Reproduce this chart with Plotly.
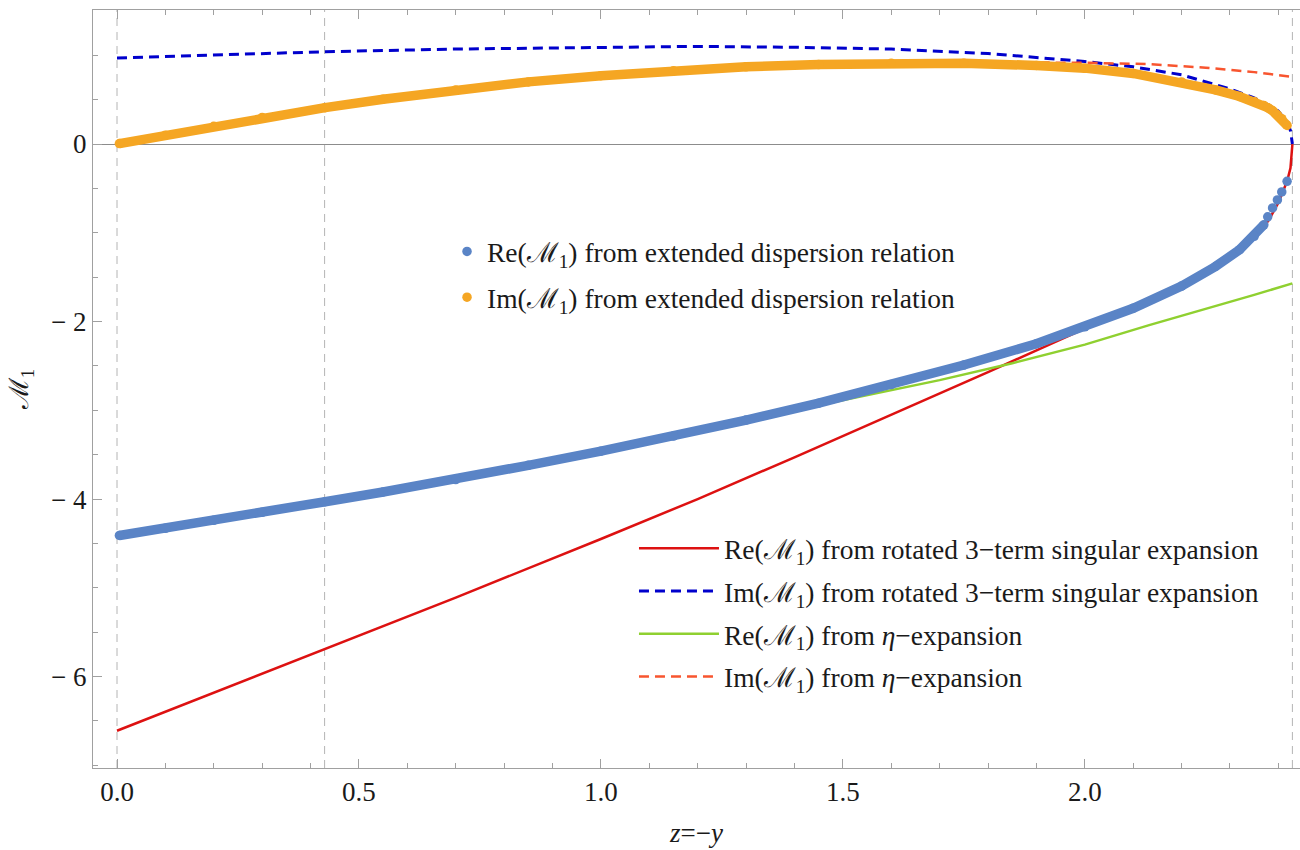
import plotly.graph_objects as go

# ---- data ----
# extended dispersion relation (dots), shared z samples
z_ext = [0.005, 0.1, 0.2, 0.3, 0.43, 0.55, 0.7, 0.85, 1.0, 1.15, 1.3, 1.45, 1.6,
         1.75, 1.9, 2.0, 2.1, 2.2, 2.27, 2.32, 2.35, 2.37, 2.378, 2.388, 2.398,
         2.407, 2.418]
re_ext = [-4.41, -4.33, -4.24, -4.15, -4.03, -3.92, -3.78, -3.62, -3.46, -3.29,
          -3.11, -2.92, -2.71, -2.49, -2.25, -2.06, -1.85, -1.60, -1.38, -1.19,
          -1.04, -0.91, -0.82, -0.72, -0.63, -0.54, -0.42]
im_ext = [0.005, 0.10, 0.20, 0.30, 0.41, 0.505, 0.61, 0.70, 0.77, 0.825, 0.87,
          0.895, 0.91, 0.91, 0.885, 0.855, 0.795, 0.70, 0.61, 0.535, 0.48, 0.435,
          0.41, 0.375, 0.33, 0.285, 0.21]
n_sparse_tail = 5  # last Re dots are visibly separated

# rotated 3-term singular expansion
z_rot = [0.0, 0.2, 0.43, 0.7, 1.0, 1.2, 1.4, 1.6, 1.8, 2.0, 2.1, 2.2, 2.3, 2.35,
         2.38, 2.4, 2.418, 2.425, 2.429]
re_rot = [-6.61, -6.18, -5.69, -5.11, -4.45, -4.0, -3.53, -3.05, -2.57, -2.08,
          -1.84, -1.60, -1.27, -1.06, -0.86, -0.66, -0.42, -0.27, 0.0]
im_rot = [0.97, 1.0, 1.04, 1.07, 1.09, 1.10, 1.09, 1.07, 1.02, 0.93, 0.87, 0.78,
          0.62, 0.52, 0.44, 0.37, 0.25, 0.15, 0.0]

# eta-expansion
z_eta = [0.0, 0.43, 0.7, 1.0, 1.2, 1.4, 1.55, 1.7, 1.85, 2.0, 2.133, 2.25, 2.35, 2.429]
re_eta = [-4.41, -4.03, -3.78, -3.46, -3.24, -3.0, -2.83, -2.66, -2.47, -2.26,
          -2.04, -1.86, -1.70, -1.57]
im_eta = [0.0, 0.41, 0.61, 0.77, 0.84, 0.885, 0.905, 0.915, 0.92, 0.915, 0.90,
          0.86, 0.81, 0.757]

gridline_z = [0.0, 0.429, 2.429]
x_ticks = [0.0, 0.5, 1.0, 1.5, 2.0]
x_tick_labels = ["0.0", "0.5", "1.0", "1.5", "2.0"]
y_ticks = [-6, -4, -2, 0]
y_tick_labels = ["\u2212 6", "\u2212 4", "\u2212 2", "0"]

M = "\u2133<sub>1</sub>"

C_BLUE_DOT = "#5a84c6"
C_ORANGE_DOT = "#f5a623"
C_RED = "#dd1111"
C_BLUE_DASH = "#0000cc"
C_GREEN = "#8fd030"
C_ORANGE_DASH = "#f8552f"
FRAME = "#a0a0a0"
DOT = 9.5

fig = go.Figure()

# lines (drawn first, under the dots)
fig.add_trace(go.Scatter(x=z_rot, y=re_rot, mode="lines", legend="legend2",
                         legendgroup="a", line=dict(color=C_RED, width=2.5),
                         name=f"Re({M}) from rotated 3\u2212term singular expansion"))
fig.add_trace(go.Scatter(x=z_rot, y=im_rot, mode="lines", legend="legend2",
                         legendgroup="b", line=dict(color=C_BLUE_DASH, width=3, dash="10px,6px"),
                         name=f"Im({M}) from rotated 3\u2212term singular expansion"))
fig.add_trace(go.Scatter(x=z_eta, y=re_eta, mode="lines", legend="legend2",
                         legendgroup="c", line=dict(color=C_GREEN, width=2.5),
                         name=f"Re({M}) from <i>\u03b7</i>\u2212expansion"))
fig.add_trace(go.Scatter(x=z_eta, y=im_eta, mode="lines", legend="legend2",
                         legendgroup="d", line=dict(color=C_ORANGE_DASH, width=2.5, dash="10px,6px"),
                         name=f"Im({M}) from <i>\u03b7</i>\u2212expansion"))

# dense dots rendered as a thick band plus markers
fig.add_trace(go.Scatter(x=z_ext[:-n_sparse_tail], y=re_ext[:-n_sparse_tail], mode="lines",
                         line=dict(color=C_BLUE_DOT, width=DOT), showlegend=False,
                         legend="legend", hoverinfo="skip"))
fig.add_trace(go.Scatter(x=z_ext, y=re_ext, mode="markers", legend="legend", legendgroup="e",
                         marker=dict(color=C_BLUE_DOT, size=DOT),
                         name=f"Re({M}) from extended dispersion relation"))
fig.add_trace(go.Scatter(x=z_ext, y=im_ext, mode="lines",
                         line=dict(color=C_ORANGE_DOT, width=DOT), showlegend=False,
                         legend="legend", hoverinfo="skip"))
fig.add_trace(go.Scatter(x=z_ext, y=im_ext, mode="markers", legend="legend", legendgroup="f",
                         marker=dict(color=C_ORANGE_DOT, size=DOT),
                         name=f"Im({M}) from extended dispersion relation"))

for gz in gridline_z:
    fig.add_shape(type="line", xref="x", yref="paper", x0=gz, x1=gz, y0=0, y1=1,
                  line=dict(color="#b4b4b4", width=1, dash="8px,6px"), layer="below")

fig.update_layout(
    width=1300, height=850,
    margin=dict(l=93, r=0, t=10, b=82),
    plot_bgcolor="white", paper_bgcolor="white",
    font=dict(family="Liberation Serif, Times New Roman, serif", size=27, color="#1a1a1a"),
    showlegend=True,
    legend=dict(x=0.2933, y=0.7137, xanchor="left", yanchor="top",
                bgcolor="rgba(0,0,0,0)", itemwidth=30, tracegroupgap=7,
                traceorder="grouped", font=dict(size=27.5)),
    legend2=dict(x=0.4482, y=0.3219, xanchor="left", yanchor="top",
                 bgcolor="rgba(0,0,0,0)", itemwidth=80, tracegroupgap=4,
                 traceorder="grouped", font=dict(size=27.5)),
)

fig.update_xaxes(
    range=[-0.0496, 2.4447], showline=True, linecolor=FRAME, linewidth=1, mirror="ticks",
    ticks="inside", ticklen=9, tickcolor=FRAME, tickvals=x_ticks, ticktext=x_tick_labels,
    minor=dict(dtick=0.1, tick0=0, ticks="inside", ticklen=5, tickcolor=FRAME, showgrid=False),
    showgrid=False, zeroline=False,
    title=dict(text="<i>z</i>=\u2212<i>y</i>", standoff=16, font=dict(size=27)),
)
fig.update_yaxes(
    range=[-7.03, 1.51], showline=True, linecolor=FRAME, linewidth=1, mirror=False,
    ticks="inside", ticklen=9, tickcolor=FRAME, tickvals=y_ticks, ticktext=y_tick_labels,
    minor=dict(dtick=0.5, tick0=0, ticks="inside", ticklen=5, tickcolor=FRAME, showgrid=False),
    showgrid=False, zeroline=True, zerolinecolor="#8c8c8c", zerolinewidth=1,
    title=dict(text=M, standoff=14, font=dict(size=27)),
)

fig.write_html("out.html")
